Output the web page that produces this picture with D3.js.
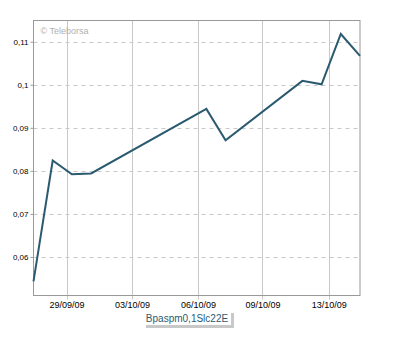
<!DOCTYPE html>
<html>
<head>
<meta charset="utf-8">
<script src="https://cdn.jsdelivr.net/npm/d3@7"></script>
<style>
  body { margin: 0; background: #fff; }
  svg { display: block; font-family: "Liberation Sans", Arial, sans-serif; }
</style>
</head>
<body>
<div id="chart"></div>
<script>
// point index (one slot per day) and price
const pointIndex = [0, 1, 2, 3, 9, 10, 14, 15, 16, 17];
const prices = [0.0543, 0.0824, 0.0792, 0.0794, 0.0944, 0.0871, 0.1009, 0.1001, 0.1118, 0.1067];
const xTickPos = [1.72, 5.13, 8.56, 11.92, 15.37];
const xTickLabels = ["29/09/09", "03/10/09", "06/10/09", "09/10/09", "13/10/09"];
const yTicks = [0.06, 0.07, 0.08, 0.09, 0.1, 0.11];
const seriesName = "Bpaspm0,1Slc22E";

const width = 400, height = 340;
const marginLeft = 33.5, marginRight = 40, marginTop = 20.5, marginBottom = 44.5;

const x = d3.scaleLinear()
    .domain([0, 17])
    .range([marginLeft, width - marginRight]);
const y = d3.scaleLinear()
    .domain([0.05104, 0.11493])
    .range([height - marginBottom, marginTop]);

const svg = d3.select("#chart").append("svg")
    .attr("width", width)
    .attr("height", height)
    .attr("viewBox", [0, 0, width, height]);

// horizontal dashed grid
svg.append("g")
    .selectAll("line")
    .data(yTicks)
    .join("line")
    .attr("x1", marginLeft)
    .attr("x2", width - marginRight)
    .attr("y1", d => Math.round(y(d)) + 0.5)
    .attr("y2", d => Math.round(y(d)) + 0.5)
    .attr("stroke", "#c8c8c8")
    .attr("stroke-dasharray", "4,4");

// vertical solid grid + ticks below axis
svg.append("g")
    .selectAll("line")
    .data(xTickPos)
    .join("line")
    .attr("x1", d => Math.round(x(d)) + 0.5)
    .attr("x2", d => Math.round(x(d)) + 0.5)
    .attr("y1", marginTop)
    .attr("y2", height - marginBottom + 4)
    .attr("stroke", "#c8c8c8");

// frame
svg.append("rect")
    .attr("x", marginLeft)
    .attr("y", marginTop)
    .attr("width", width - marginLeft - marginRight)
    .attr("height", height - marginTop - marginBottom)
    .attr("fill", "none")
    .attr("stroke", "#999");

// y axis labels
const yFmt = d => d3.format("~g")(d).replace(".", ",");
svg.append("g")
    .attr("transform", `translate(${marginLeft},0)`)
    .call(d3.axisLeft(y).tickValues(yTicks).tickFormat(yFmt).tickSize(3).tickPadding(2))
    .call(g => g.select(".domain").remove())
    .call(g => g.selectAll(".tick line").attr("stroke", "#999"))
    .call(g => g.selectAll(".tick text").attr("fill", "#000").attr("font-size", 8));

// x axis labels
svg.append("g")
    .attr("transform", `translate(0,${height - marginBottom})`)
    .call(d3.axisBottom(x).tickValues(xTickPos).tickFormat((d, i) => xTickLabels[i]).tickSize(0).tickPadding(6))
    .call(g => g.select(".domain").remove())
    .call(g => g.selectAll(".tick text").attr("fill", "#000").attr("font-size", 9));

// watermark
svg.append("text")
    .attr("x", marginLeft + 7)
    .attr("y", marginTop + 13)
    .attr("fill", "#b0b0b0")
    .attr("font-size", 9)
    .text("\u00a9 Teleborsa");

// price line
const data = pointIndex.map((d, i) => ({i: d, v: prices[i]}));
svg.append("path")
    .datum(data)
    .attr("fill", "none")
    .attr("stroke", "#2b5a70")
    .attr("stroke-width", 2)
    .attr("d", d3.line().x(d => x(d.i)).y(d => y(d.v)));

// legend box with shadow
const lg = svg.append("g").attr("transform", "translate(143,310)");
lg.append("rect").attr("x", 3).attr("y", 3).attr("width", 88).attr("height", 15).attr("fill", "#c8c8c8");
lg.append("rect").attr("x", 0).attr("y", 0).attr("width", 88).attr("height", 15).attr("fill", "#fff");
lg.append("text")
    .attr("x", 44)
    .attr("y", 12)
    .attr("text-anchor", "middle")
    .attr("fill", "#2b5a70")
    .attr("font-size", 10)
    .text(seriesName);
</script>
</body>
</html>
